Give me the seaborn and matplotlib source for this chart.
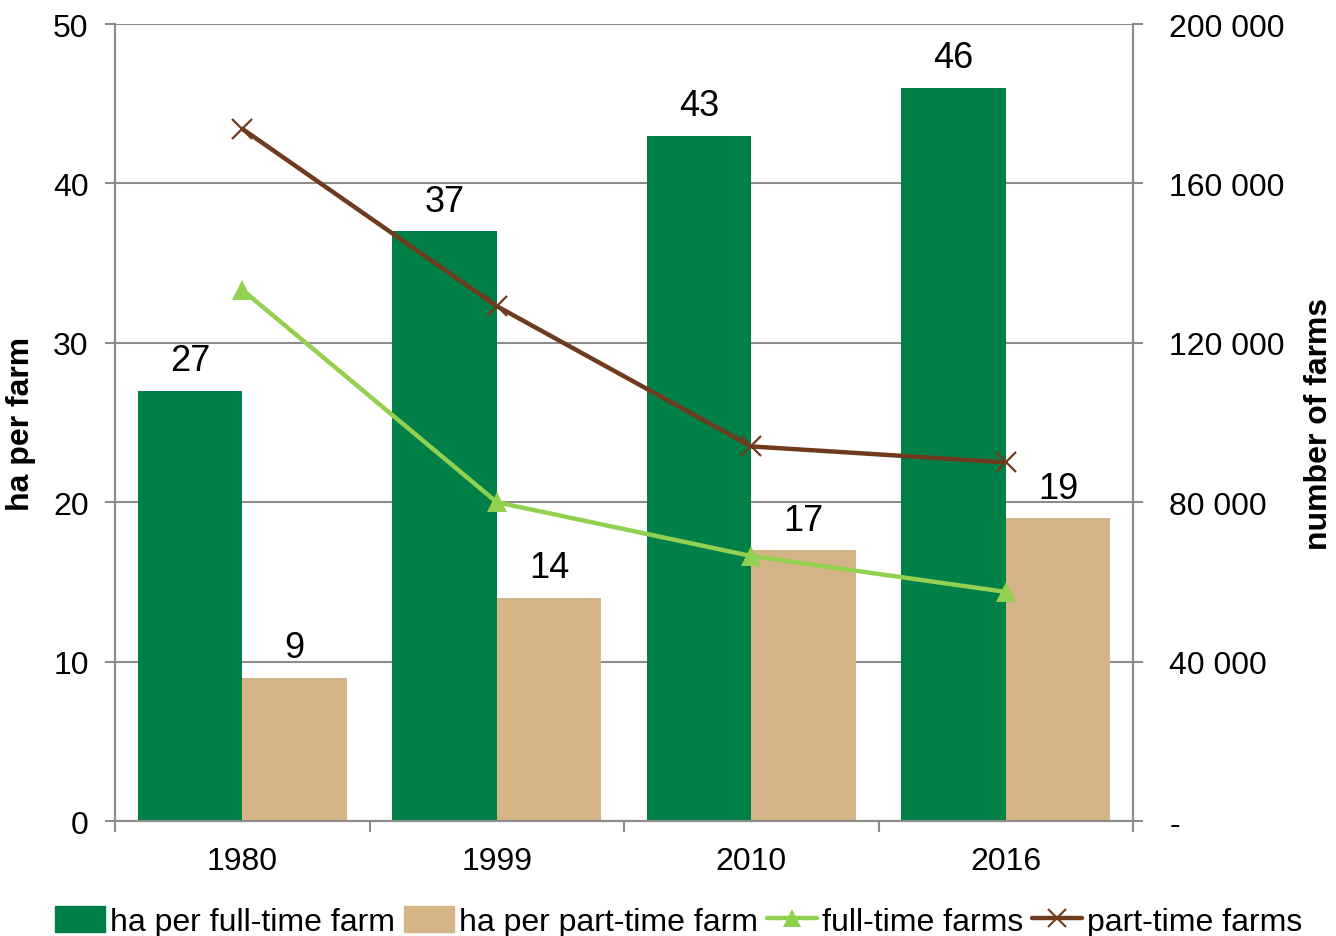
import numpy as np
import pandas as pd
import matplotlib
matplotlib.use("Agg")
import matplotlib.pyplot as plt
import seaborn as sns
from matplotlib.patches import Patch
from matplotlib.lines import Line2D

years = ["1980", "1999", "2010", "2016"]
ha_full_time = [27, 37, 43, 46]
ha_part_time = [9, 14, 17, 19]
full_time_farms = [133300, 80000, 66500, 57500]
part_time_farms = [173700, 129200, 94000, 90000]

bar_names = ["ha per full-time farm", "ha per part-time farm"]
line_names = ["full-time farms", "part-time farms"]
bar_colors = ["#007F46", "#D5B487"]
line_colors = ["#92D050", "#6E3B1F"]
grey = "#8C8C8C"

sns.set_theme(style="white")
plt.rcParams['font.family'] = ['Liberation Sans', 'DejaVu Sans']
plt.rcParams.update({"text.color": "black", "axes.labelcolor": "black",
                     "xtick.color": "black", "ytick.color": "black"})

df = pd.DataFrame({
    "year": years * 2,
    "ha": ha_full_time + ha_part_time,
    "type": [bar_names[0]] * len(years) + [bar_names[1]] * len(years),
})

fig = plt.figure(figsize=(13.36, 9.37), dpi=100)
ax = fig.add_axes([0.0861, 0.1227, 0.7620, 0.8506])

sns.barplot(data=df, x="year", y="ha", hue="type", palette=bar_colors,
            width=0.82, gap=0, saturation=1, linewidth=0, ax=ax, legend=False)

for cont in ax.containers:
    ax.bar_label(cont, fmt="%d", padding=9, fontsize=26)

ax.set_ylim(0, 50)
ax.set_xlim(-0.5, len(years) - 0.5)
ax.set_yticks(range(0, 51, 10))
ax.yaxis.grid(True, color=grey, linewidth=1.5)
ax.set_axisbelow(True)
ax.set_xlabel("")
ax.set_ylabel("ha per farm", fontsize=23, fontweight="bold", labelpad=12)
ax.tick_params(axis="y", labelsize=23, length=7, color=grey, labelcolor="black",
               width=1.5, left=True, pad=12)
ax.set_xticks(np.arange(len(years) + 1) - 0.5, minor=True)
ax.tick_params(axis="x", which="major", labelsize=23, length=0, pad=18)
ax.tick_params(axis="x", which="minor", length=8, color=grey, width=1.5, bottom=True)
for s in ["left", "bottom", "right"]:
    ax.spines[s].set_color(grey)
    ax.spines[s].set_linewidth(1.5)
ax.spines["top"].set_visible(False)

ax2 = ax.twinx()
x_pos = np.arange(len(years))
sns.lineplot(x=x_pos, y=full_time_farms, color=line_colors[0], linewidth=3.2,
             marker="^", markersize=15, markeredgewidth=0, ax=ax2)
sns.lineplot(x=x_pos, y=part_time_farms, color=line_colors[1], linewidth=3.2,
             marker="x", markersize=15, markeredgewidth=1.6,
             markeredgecolor=line_colors[1], ax=ax2)
ax2.set_ylim(0, 200000)
right_ticks = list(range(0, 200001, 40000))
ax2.set_yticks(right_ticks)
ax2.set_yticklabels(["-" if v == 0 else f"{v:,}".replace(",", " ") for v in right_ticks])
ax2.tick_params(axis="y", labelsize=23, length=7, color=grey, labelcolor="black",
                width=1.5, right=True, pad=19)
ax2.set_ylabel("number of farms", fontsize=23, fontweight="bold", labelpad=14)
for s in ["left", "bottom", "right"]:
    ax2.spines[s].set_color(grey)
    ax2.spines[s].set_linewidth(1.5)
ax2.spines["top"].set_visible(False)
ax2.grid(False)

handles = [
    Patch(color=bar_colors[0]),
    Patch(color=bar_colors[1]),
    Line2D([], [], color=line_colors[0], lw=3.2, marker="^", markersize=13, markeredgewidth=0),
    Line2D([], [], color=line_colors[1], lw=3.2, marker="x", markersize=13, markeredgewidth=1.5),
]
fig.legend(handles, bar_names + line_names, loc="lower center", bbox_to_anchor=(0.508, -0.032),
           ncol=4, frameon=False, fontsize=23, handlelength=1.55, handletextpad=0.15,
           columnspacing=0.3, handleheight=0.9)

fig.savefig("out.png", dpi=100)
